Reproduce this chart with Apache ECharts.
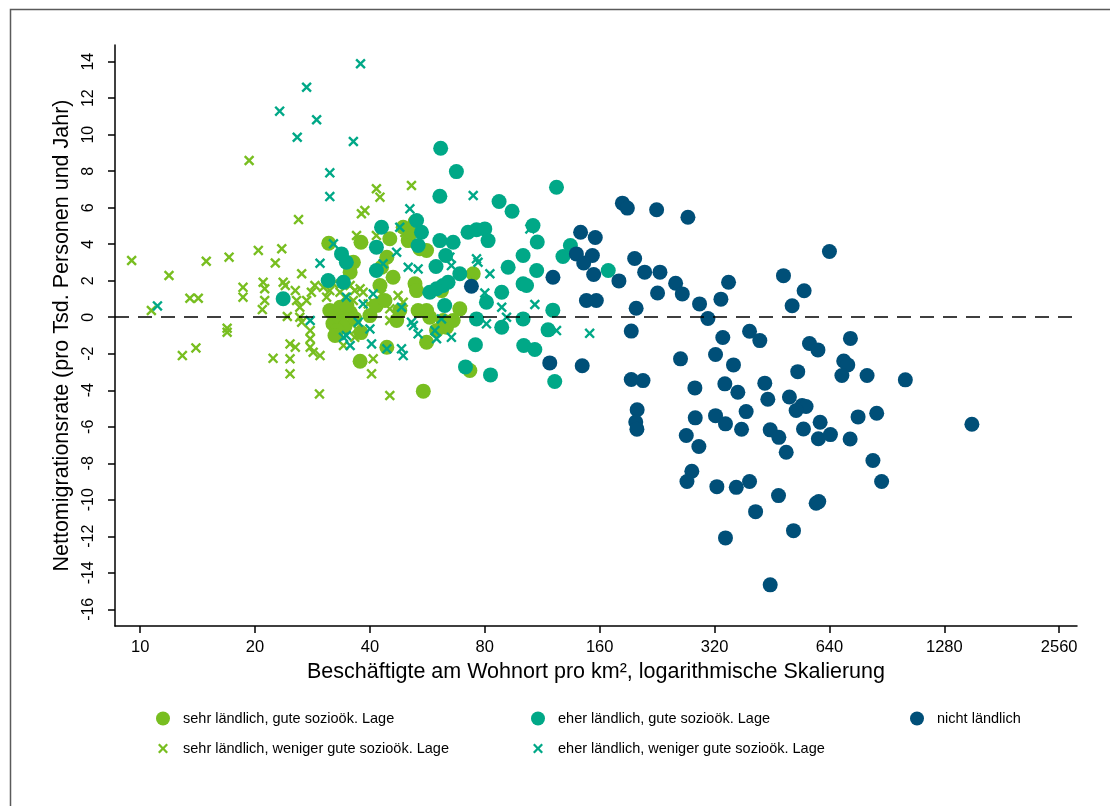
<!DOCTYPE html>
<html><head><meta charset="utf-8">
<script src="https://cdn.jsdelivr.net/npm/echarts@6/dist/echarts.min.js"></script>
<style>html,body{margin:0;padding:0;background:#fff}#c{width:1110px;height:806px}</style>
</head><body><div id="c"></div>
<script>
// Tick labels
const xTickLabels = [10, 20, 40, 80, 160, 320, 640, 1280, 2560];
const yTickLabels = [-16, -14, -12, -10, -8, -6, -4, -2, 0, 2, 4, 6, 8, 10, 12, 14];

// Series names
const nameSehrGut = 'sehr ländlich, gute sozioök. Lage';
const nameEherGut = 'eher ländlich, gute sozioök. Lage';
const nameNicht = 'nicht ländlich';
const nameSehrWeniger = 'sehr ländlich, weniger gute sozioök. Lage';
const nameEherWeniger = 'eher ländlich, weniger gute sozioök. Lage';

// sehr ländlich, gute sozioök. Lage (density, net migration)
const sehrGutX = [31.2,37.9,36.2,35.5,31.4,32.0,33.4,34.4,35.5,32.8,36.5,37.7,40.0,41.6,42.5,43.8,44.3,42.9,44.3,45.1,46.0,48.9,50.4,51.4,52.5,52.5,53.0,53.5,56.3,57.4,56.3,55.2,56.3,62.2,63.5,66.1,68.8,59.8,73.1,74.6,54.1,61.6,47.0,47.9,33.4,32.4,34.8,37.9];
const sehrGutY = [4.05,4.11,3.01,2.47,0.37,-0.35,-0.07,-0.51,0.26,-0.73,-0.07,-2.41,0.09,0.64,1.74,0.92,-1.64,2.74,3.29,4.30,2.19,4.93,4.20,4.66,5.21,1.83,1.46,0.37,0.37,0.0,-1.37,-4.05,3.66,-0.18,-0.55,-0.18,0.46,-0.73,-2.92,2.38,3.75,1.46,-0.18,0.37,0.55,-1.0,0.64,-0.84];

// sehr ländlich, weniger gute sozioök. Lage
const sehrWenigerX = [9.5,10.7,11.9,12.9,13.5,14.0,14.2,14.9,16.9,16.9,17.1,18.6,18.6,19.3,20.4,20.9,21.0,21.2,21.2,22.3,22.6,23.5,23.7,24.0,24.3,24.7,25.5,24.7,24.7,25.5,25.7,26.2,26.5,26.0,26.2,26.5,27.3,28.1,28.7,27.9,27.9,27.9,28.4,29.6,29.5,30.2,30.8,31.4,32.1,33.4,34.4,35.5,36.2,36.5,37.7,38.4,34.1,36.5,36.9,36.9,41.6,42.5,38.8,38.0,51.4,41.6,40.8,40.4,45.1,45.1,47.0,45.1,42.9,47.4,48.9,39.6,40.8,41.6,49.4];
const sehrWenigerY = [3.11,0.37,2.29,-2.10,1.04,-1.68,1.04,3.07,-0.60,-0.82,3.29,1.64,1.10,8.59,3.66,0.42,1.92,1.56,0.92,-2.25,2.97,3.75,1.92,1.74,0.04,-1.46,-1.64,-2.28,-3.10,1.46,0.92,0.55,2.38,5.35,0,-0.27,0.92,1.37,1.74,-0.73,-1.18,-1.64,-1.92,-2.10,-4.20,1.64,1.10,1.46,1.83,1.37,1.10,1.74,0.92,1.46,1.56,1.37,-1.55,-1.10,-0.64,4.48,7.04,6.58,5.85,5.67,7.22,4.48,-2.28,-3.10,-4.29,0.46,0.09,-0.18,1.28,1.19,0.82,0.73,0.82,0.55,4.64];

// eher ländlich, gute sozioök. Lage
const eherGutX = [23.7,33.7,34.7,31.1,34.1,42.9,41.6,41.6,53.0,54.6,53.5,61.3,67.4,61.0,61.0,66.1,63.2,59.6,72.3,76.1,80.0,81.6,68.8,57.4,59.8,62.2,64.1,62.8,76.1,80.8,88.6,92.1,100.8,100.8,102.9,88.6,100.8,101.2,108.2,75.6,71.2,82.8,122,87.2,94.3,123.3,107,109.8,109.4,117.2,120.6,128.2,134.1,168.5];
const eherGutY = [1.01,3.47,3.01,2.01,1.92,4.93,3.84,2.56,5.30,4.66,3.93,9.26,7.98,6.63,4.20,4.11,3.38,2.78,4.66,4.79,4.84,4.20,2.38,1.37,1.56,1.74,1.92,0.64,-0.09,0.82,1.37,2.74,3.38,1.83,1.74,-0.55,-0.09,-1.55,-1.77,-1.51,-2.72,-3.16,-3.52,6.34,5.81,7.12,5.02,4.12,2.56,-0.69,0.39,3.33,3.93,2.56];

// eher ländlich, weniger gute sozioök. Lage
const eherWenigerX = [11.1,23.2,25.8,27.3,29.0,31.4,31.4,36.2,37.8,32.1,29.6,47.9,50.9,47.0,43.3,50.4,53.5,27.9,34.7,37.3,38.4,40.0,40.8,34.7,35.5,40.4,44.3,48.4,48.9,48.4,51.4,52.0,53.5,59.2,59.8,61.6,65.4,64.8,65.4,76.1,76.8,82.5,80.0,88.6,91.2,80.8,74.6,108.2,123.3,150.6,105,34.1];
const eherWenigerY = [0.62,11.29,9.86,12.60,10.82,7.91,6.61,9.63,13.89,4.02,2.96,4.93,5.94,3.56,2.93,2.74,2.65,-0.18,1.10,-0.27,0.73,-0.64,1.28,-1.0,-1.55,-1.46,-1.73,-1.73,-2.10,0.55,-0.27,-0.45,-0.91,-0.73,-1.18,-0.09,-1.10,3.29,2.83,3.20,3.01,2.38,1.33,0.55,0,-0.36,6.67,0.70,-0.73,-0.88,4.84,-1.10];

// nicht ländlich
const nichtX = [73.8,118.4,120.7,142.6,155.8,139,153.1,145.3,154.3,147.7,156.8,144,183.5,189.1,225.6,272.5,197.6,209.9,230.2,179.7,226.9,253,263.4,199.4,193.6,292.3,307.4,332.5,348.2,260.6,336.3,321.9,358.7,395.2,420.5,485,549.4,511,567.4,597.1,726.4,697.6,714.9,689.9,803.2,1011.8,193.6,207.8,200.6,198.9,200.3,284.2,340.5,368.3,433.3,441.3,528.6,502.7,542.7,555.8,523.5,387.2,284.8,321.9,341.8,376.6,269.8,291.1,447.7,471.7,547.2,605.1,598.7,643.9,493.1,725.1,760.8,851.2,832,876.8,1511.7,279,270.9,324.5,364.8,395.2,470.7,409.9,590.7,600,515.2,341.8,447.7,640];
const nichtY = [1.70,-2.50,2.19,4.66,4.37,3.47,3.38,2.97,2.34,0.92,0.92,-2.66,6.25,5.98,5.89,5.48,3.22,2.47,2.47,1.99,1.33,1.86,1.28,0.49,-0.76,0.73,-0.07,0.99,1.92,-2.28,-1.11,-2.04,-2.61,-0.77,-1.28,2.28,1.45,0.63,-1.44,-1.79,-1.16,-2.40,-2.61,-3.19,-3.19,-3.43,-3.41,-3.47,-5.07,-5.74,-6.13,-3.87,-3.65,-4.11,-3.61,-4.49,-2.98,-4.37,-4.84,-4.89,-5.11,-5.17,-5.51,-5.39,-5.84,-6.14,-6.48,-7.08,-6.17,-6.58,-6.12,-5.75,-6.66,-6.43,-7.40,-6.67,-5.46,-5.26,-7.85,-9.00,-5.86,-8.44,-9.00,-9.28,-9.32,-9.00,-9.77,-10.65,-10.19,-10.10,-11.69,-12.09,-14.66,3.60];

const cGreen = '#78BE20', cTeal = '#00A887', cBlue = '#004F78';
const FONT = 'Arial, "Liberation Sans", sans-serif';
const crossPath = 'path://M0,1.6L1.6,0L5,3.4L8.4,0L10,1.6L6.6,5L10,8.4L8.4,10L5,6.6L1.6,10L0,8.4L3.4,5Z';

// log2 scale relative to 10 (axis tick 10 -> 0, 20 -> 1, ...)
const lg = v => Math.log2(v / 10);
const pts = (xs, ys) => xs.map((x, i) => [lg(x), ys[i]]);

const chart = echarts.init(document.getElementById('c'), null, {renderer: 'canvas'});

function circleSeries(name, xs, ys, color) {
  return {type: 'scatter', name, data: pts(xs, ys), symbol: 'circle', symbolSize: 15,
    itemStyle: {color, opacity: 1}, z: 3, emphasis: {disabled: true}};
}
function crossSeries(name, xs, ys, color) {
  return {type: 'scatter', name, data: pts(xs, ys), symbol: crossPath, symbolSize: 10.5,
    itemStyle: {color, opacity: 1}, z: 3, emphasis: {disabled: true}};
}
function legendItem(name, icon, left, top, h) {
  return {left, top, itemWidth: 30, itemHeight: h, itemGap: 0, padding: 0,
    data: [{name, icon}], selectedMode: false,
    textStyle: {fontSize: 14.5, color: '#000', fontFamily: FONT}};
}

chart.setOption({
  animation: false,
  backgroundColor: '#fff',
  grid: {left: 115, right: 33, top: 45, bottom: 180, containLabel: false},
  graphic: [{type: 'rect', shape: {x: 10.5, y: 9.5, width: 1200, height: 900},
    style: {fill: 'none', stroke: '#5a5a5a', lineWidth: 1.5}, silent: true, z: -10}],
  legend: [
    legendItem(nameSehrGut, 'circle', 156, 711, 14),
    legendItem(nameEherGut, 'circle', 531, 711, 14),
    legendItem(nameNicht, 'circle', 910, 711, 14),
    legendItem(nameSehrWeniger, crossPath, 158, 741, 10),
    legendItem(nameEherWeniger, crossPath, 533, 741, 10)
  ],
  xAxis: {
    type: 'value', min: -0.219, max: 8.155,
    axisLine: {show: true, onZero: false, lineStyle: {color: '#000', width: 1.5}},
    axisTick: {show: true, length: 7, customValues: xTickLabels.map(lg), lineStyle: {color: '#000', width: 1.5}},
    axisLabel: {customValues: xTickLabels.map(lg), formatter: v => String(xTickLabels[Math.round(v)]),
      fontSize: 16.5, color: '#000', fontFamily: FONT, margin: 13},
    splitLine: {show: false},
    name: 'Beschäftigte am Wohnort pro km², logarithmische Skalierung',
    nameLocation: 'middle', nameGap: 31,
    nameTextStyle: {fontSize: 21.5, color: '#000', fontFamily: FONT}
  },
  yAxis: {
    type: 'value', min: -16.915, max: 14.915,
    axisLine: {show: true, onZero: false, lineStyle: {color: '#000', width: 1.5}},
    axisTick: {show: true, length: 7, customValues: yTickLabels, lineStyle: {color: '#000', width: 1.5}},
    axisLabel: {customValues: yTickLabels, rotate: 90, fontSize: 16, color: '#000', fontFamily: FONT, margin: 18},
    splitLine: {show: false},
    name: 'Nettomigrationsrate (pro Tsd. Personen und Jahr)',
    nameLocation: 'middle', nameGap: 39,
    nameTextStyle: {fontSize: 21.5, color: '#000', fontFamily: FONT}
  },
  series: [
    {type: 'scatter', name: '_zero', data: [], z: 1, silent: true,
      markLine: {silent: true, symbol: ['none', 'none'], label: {show: false},
        lineStyle: {color: '#000', type: [14, 9], width: 1.5},
        data: [{yAxis: 0}]}},
    crossSeries(nameSehrWeniger, sehrWenigerX, sehrWenigerY, cGreen),
    circleSeries(nameSehrGut, sehrGutX, sehrGutY, cGreen),
    crossSeries(nameEherWeniger, eherWenigerX, eherWenigerY, cTeal),
    circleSeries(nameEherGut, eherGutX, eherGutY, cTeal),
    circleSeries(nameNicht, nichtX, nichtY, cBlue)
  ]
});
</script>
</body></html>
